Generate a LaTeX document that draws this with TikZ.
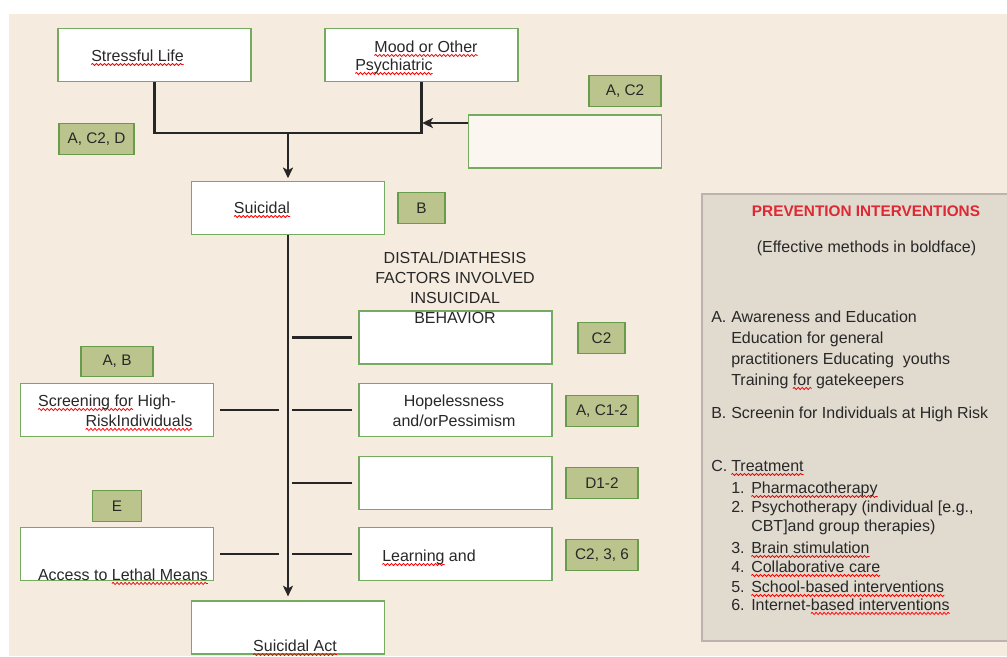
\documentclass[tikz,border=0pt]{standalone}
\usepackage{fontspec}
\setmainfont{Liberation Sans}
\usetikzlibrary{arrows.meta,decorations.pathmorphing}

\definecolor{paper}{RGB}{245,235,223}
\definecolor{paleleft}{RGB}{251,247,240}
\definecolor{boxgreen}{RGB}{118,170,96}
\definecolor{tagfill}{RGB}{188,196,142}
\definecolor{tagline}{RGB}{104,156,76}
\definecolor{panelfill}{RGB}{225,218,207}
\definecolor{panelline}{RGB}{188,180,172}
\definecolor{headred}{RGB}{222,40,52}
\definecolor{ink}{RGB}{40,40,40}

\newlength{\wavylen}
\newcommand{\wavy}[1]{\settowidth{\wavylen}{#1}\tikz[overlay,baseline=0pt,x=1pt,y=1pt]\draw[red,line width=0.6pt,decorate,decoration={snake,amplitude=0.8pt,segment length=3pt}] (0,-2.6) -- (\wavylen,-2.6);#1}

\begin{document}
\begin{tikzpicture}[x=0.75pt,y=-0.75pt,
  factor/.style={draw=boxgreen,fill=white,line width=0.9pt,minimum width=144.75pt,minimum height=39.75pt,inner sep=0pt},
  tag/.style={draw=tagline,fill=tagfill,line width=0.9pt,minimum height=23pt,inner sep=0pt,font=\fontsize{11.5}{13}\selectfont,text=ink},
  txt/.style={font=\fontsize{12}{14}\selectfont,text=ink,inner sep=0pt},
  conn/.style={draw=black!85,line width=1.8pt},
  tip/.style={-{Stealth[length=8pt,width=7.5pt,inset=2pt]}}]
	\useasboundingbox (0,0) rectangle (1007,657);
	\fill[white] (0,0) rectangle (1007,657);
	\fill[paper] (9,14) rectangle (1007,656);
	% legend panel
	\path[fill=panelfill,draw=panelline,line width=1pt] (702,194) rectangle (1012,641);
	% factor boxes
	\node[factor] (stress) at (154.5,55) {};
	\node[factor] (mood) at (421.5,55) {};
	\node[factor,fill=paleleft] (extra) at (565,141.5) {};
	\node[factor] (suic) at (288,208) {};
	\node[factor] (f1) at (455.5,337.5) {};
	\node[factor] (f2) at (455.5,410) {};
	\node[factor] (f3) at (455.5,483) {};
	\node[factor] (f4) at (455.5,554) {};
	\node[factor] (screen) at (117,410) {};
	\node[factor] (access) at (117,554) {};
	\node[factor] (act) at (288,627.5) {};
	% box texts
	\node[txt,anchor=base] (stress-t) at ([shift={(-17,6)}]stress.center) {\wavy{Stressful Life}};
	\node[txt,anchor=base] (mood-t) at ([shift={(4.5,-3)}]mood.center) {\wavy{Mood or Other}};
	\node[txt,anchor=base west] (mood-u) at ([shift={(-66.5,15)}]mood.center) {\wavy{Psychiatric}};
	\node[txt,anchor=base] (suic-t) at ([shift={(-26,5)}]suic.center) {\wavy{Suicidal}};
	\node[txt,anchor=base] (f2-t) at ([shift={(-1.5,-4)}]f2.center) {Hopelessness};
	\node[txt,anchor=base] (f2-u) at ([shift={(-1.5,16)}]f2.center) {and/orPessimism};
	\node[txt,anchor=base] (f4-t) at ([shift={(-26.5,7)}]f4.center) {\wavy{Learning} and};
	\node[txt,anchor=base] (screen-t) at ([shift={(-10,-4)}]screen.center) {\wavy{Screening for} High-};
	\node[txt,anchor=base] (screen-u) at ([shift={(22,16)}]screen.center) {\wavy{RiskIndividuals}};
	\node[txt,anchor=base] (access-t) at ([shift={(6,26)}]access.center) {Access to \wavy{Lethal Means}};
	\node[txt,anchor=base] (act-t) at ([shift={(7,23.5)}]act.center) {\wavy{Suicidal Act}};
	\node[txt,anchor=base] (distal1) at (455,263) {DISTAL/DIATHESIS};
	\node[txt,anchor=base] (distal2) at (455,283) {FACTORS INVOLVED};
	\node[txt,anchor=base] (distal3) at (455,303) {INSUICIDAL};
	\node[txt,anchor=base] (distal4) at (455,323) {BEHAVIOR};
	% intervention tags
	\node[tag,minimum width=56.25pt] (tACD) at (96.5,139) {A, C2, D};
	\node[tag,minimum width=35.25pt] (tB) at (421.5,208) {B};
	\node[tag,minimum width=54pt] (tAC2) at (625,91) {A, C2};
	\node[tag,minimum width=35.25pt] (tC2) at (601.5,338) {C2};
	\node[tag,minimum width=54pt] (tAC12) at (602,411) {A, C1-2};
	\node[tag,minimum width=54pt] (tD12) at (602,483) {D1-2};
	\node[tag,minimum width=54pt] (tC236) at (602,555) {C2, 3, 6};
	\node[tag,minimum width=54pt] (tAB) at (117,361.5) {A, B};
	\node[tag,minimum width=36.75pt] (tE) at (117,506) {E};
	% connectors
	\coordinate (join) at (288,133);
	\coordinate (moodhit) at (421.5,123);
	\draw[conn] (stress.south) |- (join) -| (mood.south);
	\draw[conn,tip,shorten >=2pt] (join) -- (suic.north);
	\draw[conn,tip,shorten >=0.5pt] (extra.west |- moodhit) -- (moodhit);
	\draw[conn,tip,shorten >=3pt] (suic.south) -- (act.north);
	\foreach \f in {f1,f2,f3,f4}
		\draw[conn] ([shift={(-6,0)}]\f.west) -- ([shift={(-66,0)}]\f.west);
	\foreach \f in {screen,access}
		\draw[conn] ([shift={(6,0)}]\f.east) -- ([shift={(65,0)}]\f.east);
	% legend texts
	\node[font=\fontsize{11.5}{13}\selectfont\bfseries,text=headred,inner sep=0pt,anchor=base] (lhead) at (866,216) {PREVENTION INTERVENTIONS};
	\node[txt,anchor=base] (lnote) at (866.5,252) {(Effective methods in boldface)};
	\node[txt,anchor=base west] (lA) at (711,322) {A.};
	\node[txt,anchor=base west] (lA1) at (731,322) {Awareness and Education};
	\node[txt,anchor=base west] (lA2) at (731,343) {Education for general};
	\node[txt,anchor=base west] (lA3) at (731,364) {practitioners Educating\ \ youths};
	\node[txt,anchor=base west] (lA4) at (731,385) {Training \wavy{for} gatekeepers};
	\node[txt,anchor=base west] (lB) at (711,418) {B.};
	\node[txt,anchor=base west] (lB1) at (731,418) {Screenin for Individuals at High Risk};
	\node[txt,anchor=base west] (lC) at (711,471) {C.};
	\node[txt,anchor=base west] (lC0) at (731,471) {\wavy{Treatment}};
	\node[txt,anchor=base west] (ln1) at (731,493) {1.};
	\node[txt,anchor=base west] (lt1) at (751,493) {\wavy{Pharmacotherapy}};
	\node[txt,anchor=base west] (ln2) at (731,512) {2.};
	\node[txt,anchor=base west] (lt2) at (751,512) {Psychotherapy (individual [e.g.,};
	\node[txt,anchor=base west] (lt2b) at (751,531) {CBT]and group therapies)};
	\node[txt,anchor=base west] (ln3) at (731,553) {3.};
	\node[txt,anchor=base west] (lt3) at (751,553) {\wavy{Brain stimulation}};
	\node[txt,anchor=base west] (ln4) at (731,572) {4.};
	\node[txt,anchor=base west] (lt4) at (751,572) {\wavy{Collaborative care}};
	\node[txt,anchor=base west] (ln5) at (731,592) {5.};
	\node[txt,anchor=base west] (lt5) at (751,592) {\wavy{School-based interventions}};
	\node[txt,anchor=base west] (ln6) at (731,610) {6.};
	\node[txt,anchor=base west] (lt6) at (751,610) {Internet-\wavy{based interventions}};
\end{tikzpicture}
\end{document}
